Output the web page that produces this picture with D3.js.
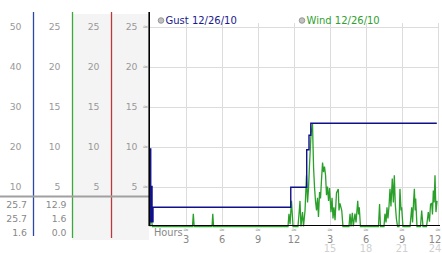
<!DOCTYPE html>
<html><head><meta charset="utf-8">
<script src="https://cdn.jsdelivr.net/npm/d3@7"></script>
<style>
html,body{margin:0;padding:0;background:#fff;}
svg{display:block;font-family:"DejaVu Sans",Verdana,sans-serif;}
</style></head>
<body>
<svg id="c" width="442" height="253"></svg>
<script>
// ---------- data ----------
const scaleTicks50 = [50, 40, 30, 20, 10];
const scaleTicks25 = [25, 20, 15, 10, 5];
const statCol1 = ["25.7", "25.7", "1.6"];
const statCol2 = ["12.9", "1.6", "0.0"];
const hourTicks = [3, 6, 9, 12, 15, 18, 21, 24];
const hourLabels = ["3", "6", "9", "12", "3", "6", "9", "12"];
const hourLabels2 = ["", "", "", "", "15", "18", "21", "24"];
const legendNames = ["Gust 12/26/10", "Wind 12/26/10"];

const gustHours  = [0, 0.06, 0.1, 0.17, 0.25, 11.73, 13.06, 13.25, 13.4, 23.9];
const gustValues = [9.7, 0.6, 5.0, 0.6, 2.4, 4.9, 9.6, 11.4, 12.9, 12.9];

const windHours = [0,0.08,0.2,3.54,3.61,3.68,5.17,5.23,5.3,11.5,11.58,11.67,11.79,11.92,
 12.33,12.42,12.5,12.58,12.71,12.79,12.92,13.04,13.13,13.21,13.29,13.42,13.54,13.63,13.71,13.79,
 13.88,13.96,14.04,14.13,14.21,14.29,14.38,14.46,14.54,14.63,14.71,14.79,14.88,14.96,15.08,15.17,
 15.25,15.33,15.42,15.54,15.69,15.75,15.83,15.98,16.08,16.58,16.67,16.75,16.86,16.94,17.08,17.17,
 17.31,17.38,17.44,17.54,19.04,19.13,19.21,19.5,19.58,19.67,19.75,19.83,19.92,20.0,20.08,20.19,
 20.28,20.36,20.44,20.53,20.63,20.75,20.83,20.92,20.97,21.08,21.67,21.81,21.88,21.96,22.03,22.1,
 22.14,22.25,22.54,22.64,22.75,23.04,23.13,23.19,23.29,23.38,23.48,23.54,23.61,23.68,23.75,23.83,23.92];
const windValues = [0,1.3,0,0,1.6,0,0,1.6,0,0,1.6,0.3,3.2,0,
 0,1.6,3.2,0,1.8,0,2.0,6.4,3.0,4.8,7.6,11.6,12.9,7.4,4.9,3.2,
 2.0,3.6,1.2,4.3,3.5,5.8,8.0,6.8,7.5,6.4,3.9,5.0,3.2,4.8,1.8,3.6,
 1.0,2.4,0.8,4.2,4.7,2.0,2.9,2.0,0,0,1.6,0,1.7,0,1.6,0.5,
 3.2,1.5,2.4,0,0,2.8,0,0,1.6,0.5,2.4,1.0,2.6,4.7,2.5,6.0,
 3.0,6.4,2.8,1.0,0,0,4.7,2.0,2.4,0,0,2.4,0.5,3.0,4.7,2.0,
 3.5,0,0,2.0,0,0,1.0,1.8,0.6,2.8,2.9,1.5,4.5,3.0,6.4,1.8,3.2];

// ---------- layout ----------
const svg = d3.select("#c");
const x = d3.scaleLinear().domain([0, 24]).range([150, 438]);
const y = d3.scaleLinear().domain([0, 25]).range([226.5, 26.5]);
const y50 = d3.scaleLinear().domain([0, 50]).range([226.5, 26.5]);

// left panel backgrounds
svg.append("rect").attr("x", 72).attr("y", 14).attr("width", 77).attr("height", 226).attr("fill", "#f4f4f4");

// colored column lines
[[33.5, "#2a48a8", 236], [72.5, "#3aa83a", 238], [111.5, "#b83a3a", 238]].forEach(([lx, c, b]) => {
  svg.append("line").attr("x1", lx).attr("x2", lx).attr("y1", 12).attr("y2", b)
    .attr("stroke", c).attr("stroke-width", 1.3);
});

// separator
svg.append("line").attr("x1", 0).attr("x2", 149).attr("y1", 196.5).attr("y2", 196.5)
  .attr("stroke", "#a0a0a0").attr("stroke-width", 2);

// scale labels
const lab = svg.append("g").attr("font-size", 9.3).attr("fill", "#999").attr("text-anchor", "end");
lab.selectAll(".a").data(scaleTicks50).join("text").attr("x", 21.5).attr("y", d => y50(d) + 3.5).text(d => d);
[60.5, 99.5, 137.5].forEach(cx => {
  lab.selectAll(null).data(scaleTicks25).join("text").attr("x", cx).attr("y", d => y(d) + 3.5).text(d => d);
});
// little marks at left axis
svg.append("g").attr("font-size", 7).attr("fill", "#aaa").attr("text-anchor", "middle")
  .selectAll("text").data(scaleTicks25).join("text").attr("x", 145.5).attr("y", d => y(d) + 2.5).text("≈");

// stats
const st = svg.append("g").attr("font-size", 9.3).attr("fill", "#888").attr("text-anchor", "end");
st.selectAll(".s1").data(statCol1).join("text").attr("x", 27).attr("y", (d, i) => 207.5 + i * 14).text(d => d);
st.selectAll(".s2").data(statCol2).join("text").attr("class","s2").attr("x", 66.5).attr("y", (d, i) => 207.5 + i * 14).text(d => d);

// grid
const grid = svg.append("g").attr("stroke", "#dcdcdc").attr("stroke-width", 1);
grid.selectAll(".h").data(scaleTicks25).join("line").attr("class","h")
  .attr("x1", 150).attr("x2", 438).attr("y1", d => Math.round(y(d)) + 0.5).attr("y2", d => Math.round(y(d)) + 0.5);
grid.selectAll(".v").data(hourTicks).join("line").attr("class","v")
  .attr("x1", d => Math.round(x(d)) + 0.5).attr("x2", d => Math.round(x(d)) + 0.5).attr("y1", 23).attr("y2", 226);

// wind
const windPts = windHours.map((h, i) => [h, windValues[i]]);
svg.append("path").datum(windPts)
  .attr("d", d3.line().x(d => x(d[0])).y(d => y(d[1])))
  .attr("fill", "none").attr("stroke", "#2aa02a").attr("stroke-width", 1.3);

// gust
const gustPts = gustHours.map((h, i) => [h, gustValues[i]]);
svg.append("path").datum(gustPts)
  .attr("d", d3.line().curve(d3.curveStepAfter).x(d => x(d[0])).y(d => y(d[1])))
  .attr("fill", "none").attr("stroke", "#10108a").attr("stroke-width", 1.4);

// axes lines
svg.append("line").attr("x1", 149).attr("x2", 440).attr("y1", 225.5).attr("y2", 225.5).attr("stroke", "#000").attr("stroke-width", 1.2);
svg.append("line").attr("x1", 149.2).attr("x2", 149.2).attr("y1", 12).attr("y2", 226).attr("stroke", "#000").attr("stroke-width", 1.6);

// x labels
const xl = svg.append("g").attr("font-size", 9.8).attr("text-anchor", "middle");
xl.append("text").attr("x", 154).attr("y", 235.5).attr("text-anchor", "start").attr("fill", "#888").text("Hours");
xl.selectAll(".t").data(hourTicks).join("text").attr("class","t")
  .attr("x", (d, i) => Math.min(x(d), 435)).attr("y", 242.5).attr("fill", "#888").text((d, i) => hourLabels[i]);
xl.selectAll(".t2").data(hourTicks).join("text").attr("class","t2")
  .attr("x", (d, i) => Math.min(x(d), 435)).attr("y", 252).attr("fill", "#d0d0d0").text((d, i) => hourLabels2[i]);
svg.append("g").attr("font-size", 7).attr("fill", "#aaa").attr("text-anchor", "middle")
  .selectAll("text").data(hourTicks).join("text").attr("x", d => x(d)).attr("y", 232).text("≈");

// legend
const legColors = ["#1a1a8c", "#2f9f2f"];
const legX = [161, 302];
legendNames.forEach((n, i) => {
  svg.append("circle").attr("cx", legX[i]).attr("cy", 20.5).attr("r", 2.8).attr("fill", "#c0c0c0").attr("stroke", "#888").attr("stroke-width", 0.8);
  svg.append("text").attr("x", legX[i] + 4.5).attr("y", 24).attr("font-size", 10).attr("fill", legColors[i]).text(n);
});
</script>
</body></html>
